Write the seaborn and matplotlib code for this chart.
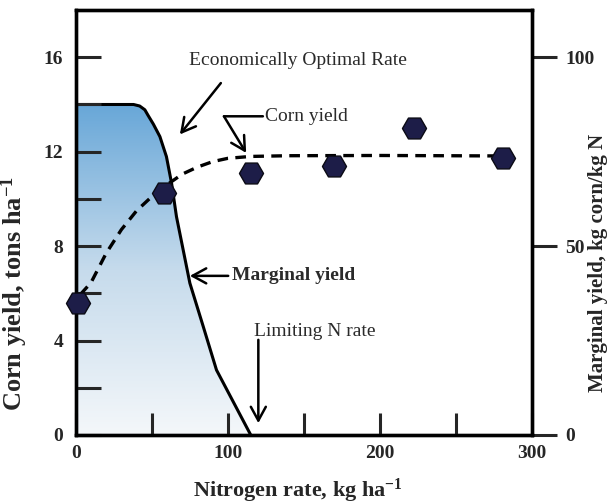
import numpy as np
import pandas as pd
import matplotlib
matplotlib.use("Agg")
import matplotlib.pyplot as plt
import seaborn as sns
from matplotlib.colors import LinearSegmentedColormap

# ---- data ----
n_obs = [1.3, 58, 115.4, 170, 222, 281]               # kg N/ha
yield_obs = [5.58, 10.24, 11.11, 11.41, 12.99, 11.72]  # tons/ha

n_fit = [3, 10, 20, 30, 40, 50, 60, 70, 80, 90, 100, 115, 140, 200, 282]
yield_fit = [5.95, 6.45, 7.7, 8.7, 9.5, 10.1, 10.6, 11.05, 11.35, 11.58, 11.72, 11.8, 11.83, 11.84, 11.82]

n_marg = [0, 38, 42, 45.4, 47.4, 51, 55.3, 59.6, 63, 66.2, 70.6, 75, 83.8, 92.5, 115]
marg_yield = [87.5, 87.5, 87.1, 86.1, 84.7, 82.3, 79.0, 73.7, 66.6, 57.8, 49.0, 40.2, 28.7, 17.2, 0.0]

left_ticks = [0, 4, 8, 12, 16]
left_minor = [2, 6, 10, 14]
x_ticks = [0, 100, 200, 300]
x_minor = [50, 150, 250]
right_ticks = [0, 50, 100]

sns.set_style("white")
plt.rcParams['font.family'] = ['Liberation Serif', 'DejaVu Serif']
plt.rcParams['mathtext.fontset'] = 'custom'
plt.rcParams['mathtext.rm'] = 'Liberation Serif'
plt.rcParams['mathtext.bf'] = 'Liberation Serif:bold'
plt.rcParams['mathtext.default'] = 'bf'

fig = plt.figure(figsize=(6.11, 5.04), dpi=100)
ax = fig.add_axes([0.124, 0.137, 0.747, 0.843])
ax2 = ax.twinx()

ax.set_zorder(ax2.get_zorder() + 1)
ax.patch.set_visible(False)

# ---- marginal yield (right axis) ----
df_m = pd.DataFrame({"N": n_marg, "MY": marg_yield})
poly = ax2.fill_between(df_m["N"], df_m["MY"], 0, color="none", lw=0)
cmap = LinearSegmentedColormap.from_list("bl", ["#f4f7fa", "#c6dbec", "#68a7d8"])
grad = np.linspace(0, 1, 256).reshape(-1, 1)
im = ax2.imshow(grad, aspect="auto", cmap=cmap, origin="lower",
                extent=[0, 120, 0, 87.5], zorder=1)
path = poly.get_paths()[0]
im.set_clip_path(path, transform=ax2.transData)
sns.lineplot(data=df_m, x="N", y="MY", ax=ax2, color="black", lw=2.2,
             sort=False, zorder=3)

ax2.set_ylim(0, 18 * 6.25)
ax2.set_yticks(right_ticks)
ax2.set_yticklabels([str(t) for t in right_ticks], fontsize=14, fontweight="bold")
ax2.tick_params(axis="y", direction="out", length=18, width=2.2, pad=6, right=True)
ax2.set_ylabel("Marginal yield, kg corn/kg N", fontsize=15, fontweight="bold",
               rotation=90)
ax2.yaxis.set_label_coords(1.123, 0.405)

# ---- corn yield (left axis) ----
df_fit = pd.DataFrame({"N": n_fit, "Y": yield_fit})
sns.lineplot(data=df_fit, x="N", y="Y", ax=ax, color="black", lw=2.4,
             linestyle=(0, (3.2, 2.2)), zorder=3)
df_obs = pd.DataFrame({"N": n_obs, "Y": yield_obs})
sns.scatterplot(data=df_obs, x="N", y="Y", ax=ax, marker="H", s=300,
                color="#1d1d48", edgecolor="#0a0a14", linewidth=1.0, zorder=5,
                clip_on=False)

ax.set_xlim(0, 300)
ax.set_ylim(0, 18)
ax.set_xticks(x_ticks)
ax.set_xticks(x_minor, minor=True)
ax.set_yticks(left_ticks)
ax.set_yticks(left_minor, minor=True)
ax.set_xticklabels([str(t) for t in x_ticks], fontsize=14, fontweight="bold")
ax.set_yticklabels([str(t) for t in left_ticks], fontsize=14, fontweight="bold")
ax.tick_params(axis="y", which="both", direction="in", length=18, width=2.2)
ax.tick_params(axis="x", which="both", direction="in", length=16, width=2.2)
ax.tick_params(axis="x", which="major", pad=7)
ax.tick_params(axis="y", which="major", pad=9)
ax.tick_params(bottom=True, left=True, top=False, right=False, which="both")
ax.set_xlabel("Nitrogen rate, kg ha$^{-1}$", fontsize=16, fontweight="bold")
ax.xaxis.set_label_coords(0.487, -0.098)
ax.set_ylabel("Corn yield, tons ha$^{-1}$", fontsize=19, fontweight="bold")
ax.yaxis.set_label_coords(-0.1, 0.334)

for a in (ax, ax2):
    for sp in a.spines.values():
        sp.set_linewidth(2.4)
        sp.set_color("black")

# ---- annotations ----
arrow_kw = dict(arrowstyle="->,head_length=0.55,head_width=0.3", color="black",
                lw=1.8, mutation_scale=18)
txt_col = "#2a2a2a"

ax.text(146, 15.86, "Economically Optimal Rate", fontsize=14, ha="center",
        va="center", color=txt_col)
ax.annotate("", xy=(67.3, 12.64), xytext=(96.5, 15.0), arrowprops=arrow_kw)

ax.text(124.3, 13.5, "Corn yield", fontsize=14, ha="left", va="center",
        color=txt_col)
ax.annotate("", xy=(97.4, 13.5), xytext=(123, 13.5),
            arrowprops=dict(arrowstyle="-", color="black", lw=1.8,
                            shrinkA=0, shrinkB=0))
ax.annotate("", xy=(112, 11.95), xytext=(97.4, 13.5),
            arrowprops=dict(arrow_kw, shrinkA=0, shrinkB=0))

ax.text(103, 6.74, "Marginal yield", fontsize=14, fontweight="bold",
        ha="left", va="center", color=txt_col)
ax.annotate("", xy=(75, 6.74), xytext=(100.2, 6.74),
            arrowprops=dict(arrow_kw, shrinkA=0, shrinkB=0))

ax.text(117, 4.4, "Limiting N rate", fontsize=14, ha="left", va="center",
        color=txt_col)
ax.annotate("", xy=(120, 0.5), xytext=(120, 4.03),
            arrowprops=dict(arrow_kw, shrinkA=0, shrinkB=0))

fig.savefig("out.png", dpi=100)
